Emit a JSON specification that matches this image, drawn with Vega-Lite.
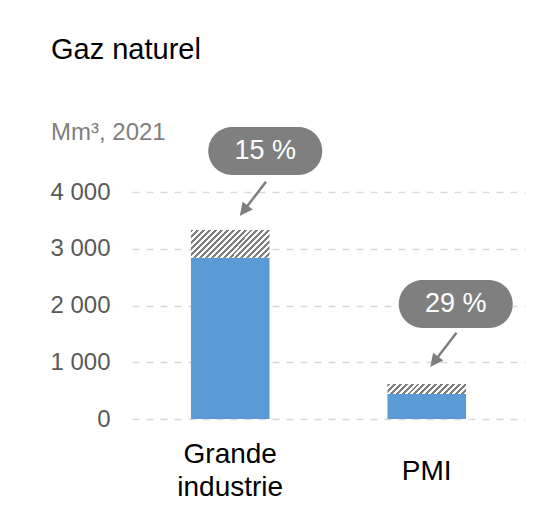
{
  "$schema": "https://vega.github.io/schema/vega-lite/v6.json",
  "width": 393,
  "height": 227,
  "autosize": {"type": "none"},
  "padding": {"left": 132, "top": 192, "right": 34, "bottom": 86},
  "background": "white",
  "config": {"view": {"stroke": null}, "font": "Liberation Sans"},
  "title": {
    "text": "Gaz naturel",
    "subtitle": "Mm³, 2021",
    "anchor": "start",
    "frame": "group",
    "dx": -81,
    "offset": -18,
    "font": "Liberation Sans",
    "fontSize": 29,
    "fontWeight": "normal",
    "color": "#000000",
    "subtitleFont": "Liberation Sans",
    "subtitleFontSize": 24,
    "subtitleColor": "#7f7f7f",
    "subtitlePadding": 56
  },
  "data": {
    "values": [
      {"cat": "Grande industrie", "part": "base", "value": 2840, "label": ""},
      {"cat": "Grande industrie", "part": "extra", "value": 490, "label": "15 %"},
      {"cat": "PMI", "part": "base", "value": 440, "label": ""},
      {"cat": "PMI", "part": "extra", "value": 176, "label": "29 %"}
    ]
  },
  "transform": [
    {"stack": "value", "groupby": ["cat"], "sort": [{"field": "part", "order": "ascending"}], "as": ["v0", "v1"]}
  ],
  "encoding": {
    "x": {
      "field": "cat",
      "type": "nominal",
      "sort": null,
      "scale": {"paddingInner": 0.6, "paddingOuter": 0.3},
      "axis": {
        "title": null,
        "domain": false,
        "ticks": false,
        "labelAngle": 0,
        "labelFont": "Liberation Sans",
        "labelFontSize": 28,
        "labelColor": "#000000",
        "labelLineHeight": 33,
        "labelBaseline": {"condition": {"test": "datum.value === 'PMI'", "value": "line-top"}, "value": "middle"},
        "labelPadding": 35,
        "labelExpr": "split(datum.label, ' ')"
      }
    },
    "y": {
      "field": "v1",
      "type": "quantitative",
      "scale": {"domain": [0, 4000]},
      "axis": {
        "title": null,
        "domain": false,
        "ticks": false,
        "values": [0, 1000, 2000, 3000, 4000],
        "labelFont": "Liberation Sans",
        "labelFontSize": 24,
        "labelColor": "#595959",
        "labelPadding": 22,
        "labelExpr": "replace(format(datum.value, ','), ',', ' ')",
        "grid": true,
        "gridColor": "#d9d9d9",
        "gridDash": [7, 7],
        "gridWidth": 1.5
      }
    }
  },
  "layer": [
    {
      "transform": [{"filter": "datum.part === 'base'"}],
      "mark": {"type": "bar", "color": "#5B9BD5"},
      "encoding": {"y2": {"field": "v0"}}
    },
    {
      "transform": [{"filter": "datum.part === 'extra' && datum.cat === 'Grande industrie'"}],
      "mark": {
        "type": "bar",
        "color": {
          "gradient": "linear", "x1": 0, "y1": 0, "x2": 1.203, "y2": 0.4233,
          "stops": [
            {"offset": 0, "color": "#7f7f7f"}, {"offset": 0.0278, "color": "#7f7f7f"}, {"offset": 0.0278, "color": "#ffffff"}, {"offset": 0.0556, "color": "#ffffff"},
            {"offset": 0.0556, "color": "#7f7f7f"}, {"offset": 0.0833, "color": "#7f7f7f"}, {"offset": 0.0833, "color": "#ffffff"}, {"offset": 0.1111, "color": "#ffffff"},
            {"offset": 0.1111, "color": "#7f7f7f"}, {"offset": 0.1389, "color": "#7f7f7f"}, {"offset": 0.1389, "color": "#ffffff"}, {"offset": 0.1667, "color": "#ffffff"},
            {"offset": 0.1667, "color": "#7f7f7f"}, {"offset": 0.1944, "color": "#7f7f7f"}, {"offset": 0.1944, "color": "#ffffff"}, {"offset": 0.2222, "color": "#ffffff"},
            {"offset": 0.2222, "color": "#7f7f7f"}, {"offset": 0.25, "color": "#7f7f7f"}, {"offset": 0.25, "color": "#ffffff"}, {"offset": 0.2778, "color": "#ffffff"},
            {"offset": 0.2778, "color": "#7f7f7f"}, {"offset": 0.3056, "color": "#7f7f7f"}, {"offset": 0.3056, "color": "#ffffff"}, {"offset": 0.3333, "color": "#ffffff"},
            {"offset": 0.3333, "color": "#7f7f7f"}, {"offset": 0.3611, "color": "#7f7f7f"}, {"offset": 0.3611, "color": "#ffffff"}, {"offset": 0.3889, "color": "#ffffff"},
            {"offset": 0.3889, "color": "#7f7f7f"}, {"offset": 0.4167, "color": "#7f7f7f"}, {"offset": 0.4167, "color": "#ffffff"}, {"offset": 0.4444, "color": "#ffffff"},
            {"offset": 0.4444, "color": "#7f7f7f"}, {"offset": 0.4722, "color": "#7f7f7f"}, {"offset": 0.4722, "color": "#ffffff"}, {"offset": 0.5, "color": "#ffffff"},
            {"offset": 0.5, "color": "#7f7f7f"}, {"offset": 0.5278, "color": "#7f7f7f"}, {"offset": 0.5278, "color": "#ffffff"}, {"offset": 0.5556, "color": "#ffffff"},
            {"offset": 0.5556, "color": "#7f7f7f"}, {"offset": 0.5833, "color": "#7f7f7f"}, {"offset": 0.5833, "color": "#ffffff"}, {"offset": 0.6111, "color": "#ffffff"},
            {"offset": 0.6111, "color": "#7f7f7f"}, {"offset": 0.6389, "color": "#7f7f7f"}, {"offset": 0.6389, "color": "#ffffff"}, {"offset": 0.6667, "color": "#ffffff"},
            {"offset": 0.6667, "color": "#7f7f7f"}, {"offset": 0.6944, "color": "#7f7f7f"}, {"offset": 0.6944, "color": "#ffffff"}, {"offset": 0.7222, "color": "#ffffff"},
            {"offset": 0.7222, "color": "#7f7f7f"}, {"offset": 0.75, "color": "#7f7f7f"}, {"offset": 0.75, "color": "#ffffff"}, {"offset": 0.7778, "color": "#ffffff"},
            {"offset": 0.7778, "color": "#7f7f7f"}, {"offset": 0.8056, "color": "#7f7f7f"}, {"offset": 0.8056, "color": "#ffffff"}, {"offset": 0.8333, "color": "#ffffff"},
            {"offset": 0.8333, "color": "#7f7f7f"}, {"offset": 0.8611, "color": "#7f7f7f"}, {"offset": 0.8611, "color": "#ffffff"}, {"offset": 0.8889, "color": "#ffffff"},
            {"offset": 0.8889, "color": "#7f7f7f"}, {"offset": 0.9167, "color": "#7f7f7f"}, {"offset": 0.9167, "color": "#ffffff"}, {"offset": 0.9444, "color": "#ffffff"},
            {"offset": 0.9444, "color": "#7f7f7f"}, {"offset": 0.9722, "color": "#7f7f7f"}, {"offset": 0.9722, "color": "#ffffff"}, {"offset": 1, "color": "#ffffff"}
          ]
        }
      },
      "encoding": {"y2": {"field": "v0"}}
    },
    {
      "transform": [{"filter": "datum.part === 'extra' && datum.cat === 'PMI'"}],
      "mark": {
        "type": "bar",
        "color": {
          "gradient": "linear", "x1": 0, "y1": 0, "x2": 1.1088, "y2": 0.1404,
          "stops": [
            {"offset": 0, "color": "#7f7f7f"}, {"offset": 0.0333, "color": "#7f7f7f"}, {"offset": 0.0333, "color": "#ffffff"}, {"offset": 0.0667, "color": "#ffffff"},
            {"offset": 0.0667, "color": "#7f7f7f"}, {"offset": 0.1, "color": "#7f7f7f"}, {"offset": 0.1, "color": "#ffffff"}, {"offset": 0.1333, "color": "#ffffff"},
            {"offset": 0.1333, "color": "#7f7f7f"}, {"offset": 0.1667, "color": "#7f7f7f"}, {"offset": 0.1667, "color": "#ffffff"}, {"offset": 0.2, "color": "#ffffff"},
            {"offset": 0.2, "color": "#7f7f7f"}, {"offset": 0.2333, "color": "#7f7f7f"}, {"offset": 0.2333, "color": "#ffffff"}, {"offset": 0.2667, "color": "#ffffff"},
            {"offset": 0.2667, "color": "#7f7f7f"}, {"offset": 0.3, "color": "#7f7f7f"}, {"offset": 0.3, "color": "#ffffff"}, {"offset": 0.3333, "color": "#ffffff"},
            {"offset": 0.3333, "color": "#7f7f7f"}, {"offset": 0.3667, "color": "#7f7f7f"}, {"offset": 0.3667, "color": "#ffffff"}, {"offset": 0.4, "color": "#ffffff"},
            {"offset": 0.4, "color": "#7f7f7f"}, {"offset": 0.4333, "color": "#7f7f7f"}, {"offset": 0.4333, "color": "#ffffff"}, {"offset": 0.4667, "color": "#ffffff"},
            {"offset": 0.4667, "color": "#7f7f7f"}, {"offset": 0.5, "color": "#7f7f7f"}, {"offset": 0.5, "color": "#ffffff"}, {"offset": 0.5333, "color": "#ffffff"},
            {"offset": 0.5333, "color": "#7f7f7f"}, {"offset": 0.5667, "color": "#7f7f7f"}, {"offset": 0.5667, "color": "#ffffff"}, {"offset": 0.6, "color": "#ffffff"},
            {"offset": 0.6, "color": "#7f7f7f"}, {"offset": 0.6333, "color": "#7f7f7f"}, {"offset": 0.6333, "color": "#ffffff"}, {"offset": 0.6667, "color": "#ffffff"},
            {"offset": 0.6667, "color": "#7f7f7f"}, {"offset": 0.7, "color": "#7f7f7f"}, {"offset": 0.7, "color": "#ffffff"}, {"offset": 0.7333, "color": "#ffffff"},
            {"offset": 0.7333, "color": "#7f7f7f"}, {"offset": 0.7667, "color": "#7f7f7f"}, {"offset": 0.7667, "color": "#ffffff"}, {"offset": 0.8, "color": "#ffffff"},
            {"offset": 0.8, "color": "#7f7f7f"}, {"offset": 0.8333, "color": "#7f7f7f"}, {"offset": 0.8333, "color": "#ffffff"}, {"offset": 0.8667, "color": "#ffffff"},
            {"offset": 0.8667, "color": "#7f7f7f"}, {"offset": 0.9, "color": "#7f7f7f"}, {"offset": 0.9, "color": "#ffffff"}, {"offset": 0.9333, "color": "#ffffff"},
            {"offset": 0.9333, "color": "#7f7f7f"}, {"offset": 0.9667, "color": "#7f7f7f"}, {"offset": 0.9667, "color": "#ffffff"}, {"offset": 1, "color": "#ffffff"}
          ]
        }
      },
      "encoding": {"y2": {"field": "v0"}}
    },
    {
      "transform": [{"filter": "datum.part === 'extra' && datum.cat === 'Grande industrie'"}],
      "layer": [
        {
          "mark": {"type": "point", "shape": "M -0.579 -0.421 L 0.579 -0.421 A 0.421 0.421 0 0 1 0.579 0.421 L -0.579 0.421 A 0.421 0.421 0 0 1 -0.579 -0.421 Z", "size": 12996, "filled": true, "fill": "#7f7f7f", "strokeWidth": 0, "opacity": 1, "xOffset": 35, "yOffset": -79}
        },
        {
          "mark": {"type": "text", "color": "#ffffff", "font": "Liberation Sans", "fontSize": 27, "align": "center", "baseline": "middle", "xOffset": 35, "yOffset": -79},
          "encoding": {"text": {"field": "label"}}
        },
        {
          "mark": {"type": "point", "shape": "M 0.766 -1 L -0.424 0.553 M -0.766 1 L -0.202 0.723 L -0.646 0.383 Z", "size": 1024, "filled": true, "fill": "#7f7f7f", "stroke": "#7f7f7f", "strokeWidth": 2.5, "opacity": 1, "xOffset": 23.5, "yOffset": -32.3}
        }
      ]
    },
    {
      "transform": [{"filter": "datum.part === 'extra' && datum.cat === 'PMI'"}],
      "layer": [
        {
          "mark": {"type": "point", "shape": "M -0.579 -0.421 L 0.579 -0.421 A 0.421 0.421 0 0 1 0.579 0.421 L -0.579 0.421 A 0.421 0.421 0 0 1 -0.579 -0.421 Z", "size": 12996, "filled": true, "fill": "#7f7f7f", "strokeWidth": 0, "opacity": 1, "xOffset": 29, "yOffset": -80}
        },
        {
          "mark": {"type": "text", "color": "#ffffff", "font": "Liberation Sans", "fontSize": 27, "align": "center", "baseline": "middle", "xOffset": 29, "yOffset": -80},
          "encoding": {"text": {"field": "label"}}
        },
        {
          "mark": {"type": "point", "shape": "M 0.766 -1 L -0.424 0.553 M -0.766 1 L -0.202 0.723 L -0.646 0.383 Z", "size": 1024, "filled": true, "fill": "#7f7f7f", "stroke": "#7f7f7f", "strokeWidth": 2.5, "opacity": 1, "xOffset": 17.5, "yOffset": -35.3}
        }
      ]
    }
  ]
}
